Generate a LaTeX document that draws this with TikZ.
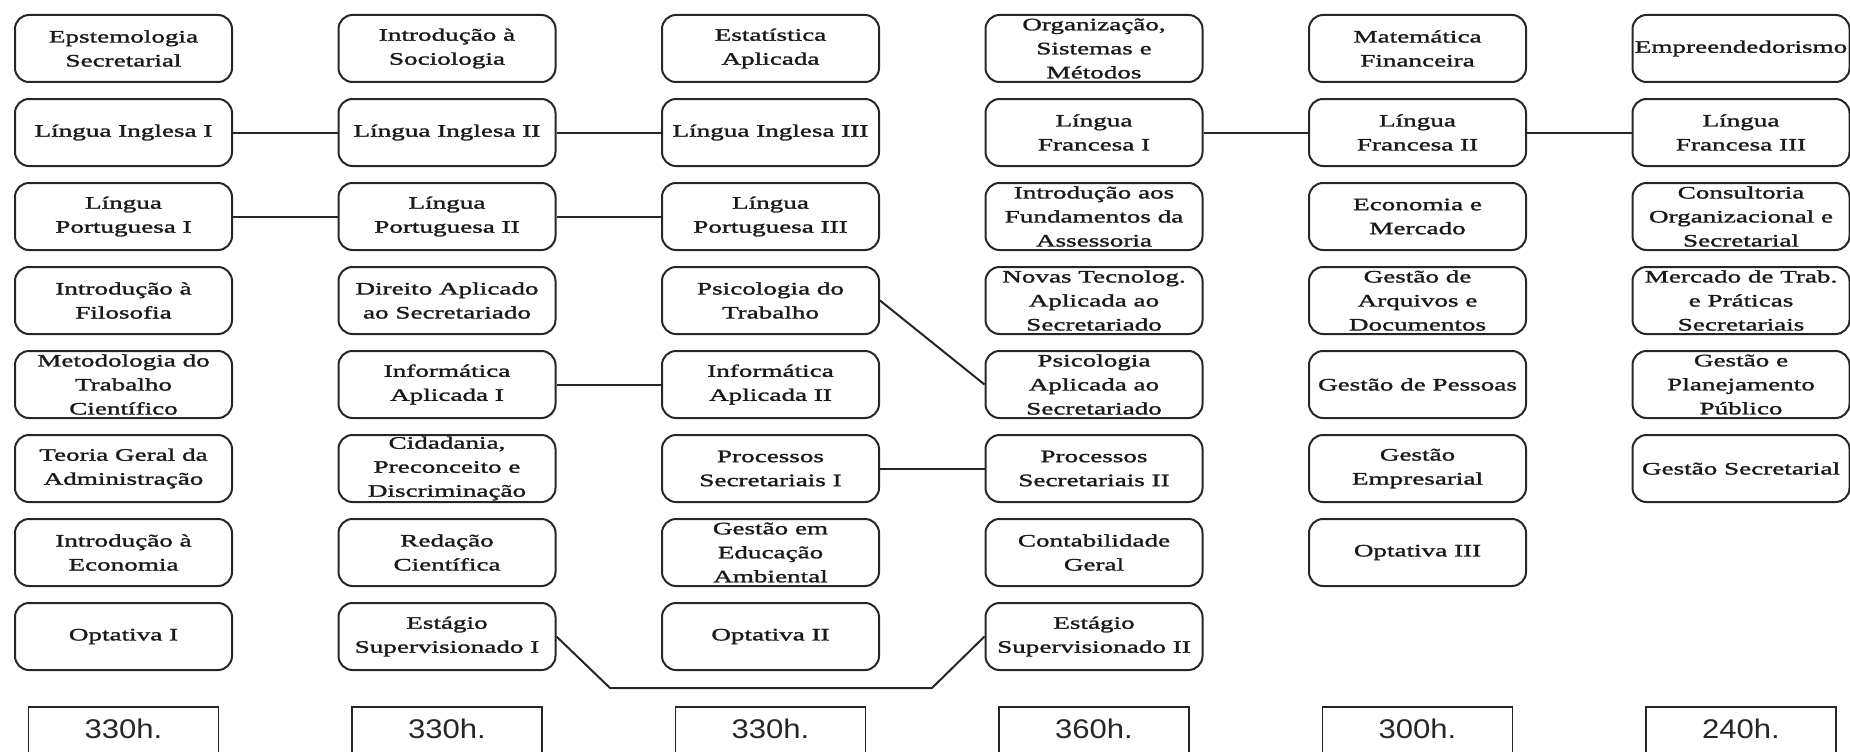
\documentclass[tikz,border=0pt]{standalone}
\usepackage{fontspec}
\newfontfamily\boxfont{Liberation Serif}[FakeStretch=1.55,FakeBold=1.6]
\newfontfamily\hourfont{Liberation Sans}[FakeStretch=1.15]
\begin{document}
\begin{tikzpicture}[x=1pt,y=-1pt]
\tikzset{
  course/.style={draw=black!85, line width=2pt, rounded corners=14pt,
    minimum width=217pt, minimum height=67pt, inner sep=0pt},
  ctext/.style={font=\boxfont\fontsize{17.5}{24}\selectfont, align=center,
    text=black!90, inner sep=0pt},
  link/.style={draw=black!85, line width=2pt},
  hourbox/.style={draw=black!85, line width=1.8pt, minimum width=190pt,
    minimum height=90pt, anchor=north, inner sep=0pt},
  hourtext/.style={font=\hourfont\fontsize{27}{32}\selectfont, text=black!85}
}
\newcommand\crs[4]{\node[course,label={[ctext]center:{#4}}] (#1) at ({123.5+323.5*(#2-1)},{48.5+84*(#3-1)}) {};}
\newcommand\hrs[3]{\node[hourbox] (#1) at ({123.5+323.5*(#2-1)},706) {};
  \node[hourtext] (#1t) at ({123.5+323.5*(#2-1)},729) {#3};}
\useasboundingbox (0,0) rectangle (1850,752);
\clip (0,0) rectangle (1850,752);
% column 1
\crs{aA}{1}{1}{Epstemologia\\Secretarial}
\crs{aB}{1}{2}{Língua Inglesa I}
\crs{aC}{1}{3}{Língua\\Portuguesa I}
\crs{aD}{1}{4}{Introdução à\\Filosofia}
\crs{aE}{1}{5}{Metodologia do\\Trabalho\\Científico}
\crs{aF}{1}{6}{Teoria Geral da\\Administração}
\crs{aG}{1}{7}{Introdução à\\Economia}
\crs{aH}{1}{8}{Optativa I}
% column 2
\crs{bA}{2}{1}{Introdução à\\Sociologia}
\crs{bB}{2}{2}{Língua Inglesa II}
\crs{bC}{2}{3}{Língua\\Portuguesa II}
\crs{bD}{2}{4}{Direito Aplicado\\ao Secretariado}
\crs{bE}{2}{5}{Informática\\Aplicada I}
\crs{bF}{2}{6}{Cidadania,\\Preconceito e\\Discriminação}
\crs{bG}{2}{7}{Redação\\Científica}
\crs{bH}{2}{8}{Estágio\\Supervisionado I}
% column 3
\crs{cA}{3}{1}{Estatística\\Aplicada}
\crs{cB}{3}{2}{Língua Inglesa III}
\crs{cC}{3}{3}{Língua\\Portuguesa III}
\crs{cD}{3}{4}{Psicologia do\\Trabalho}
\crs{cE}{3}{5}{Informática\\Aplicada II}
\crs{cF}{3}{6}{Processos\\Secretariais I}
\crs{cG}{3}{7}{Gestão em\\Educação\\Ambiental}
\crs{cH}{3}{8}{Optativa II}
% column 4
\crs{dA}{4}{1}{Organização,\\Sistemas e\\Métodos}
\crs{dB}{4}{2}{Língua\\Francesa I}
\crs{dC}{4}{3}{Introdução aos\\Fundamentos da\\Assessoria}
\crs{dD}{4}{4}{Novas Tecnolog.\\Aplicada ao\\Secretariado}
\crs{dE}{4}{5}{Psicologia\\Aplicada ao\\Secretariado}
\crs{dF}{4}{6}{Processos\\Secretariais II}
\crs{dG}{4}{7}{Contabilidade\\Geral}
\crs{dH}{4}{8}{Estágio\\Supervisionado II}
% column 5
\crs{eA}{5}{1}{Matemática\\Financeira}
\crs{eB}{5}{2}{Língua\\Francesa II}
\crs{eC}{5}{3}{Economia e\\Mercado}
\crs{eD}{5}{4}{Gestão de\\Arquivos e\\Documentos}
\crs{eE}{5}{5}{Gestão de Pessoas}
\crs{eF}{5}{6}{Gestão\\Empresarial}
\crs{eG}{5}{7}{Optativa III}
% column 6
\crs{fA}{6}{1}{Empreendedorismo}
\crs{fB}{6}{2}{Língua\\Francesa III}
\crs{fC}{6}{3}{Consultoria\\Organizacional e\\Secretarial}
\crs{fD}{6}{4}{Mercado de Trab.\\e Práticas\\Secretariais}
\crs{fE}{6}{5}{Gestão e\\Planejamento\\Público}
\crs{fF}{6}{6}{Gestão Secretarial}
% hours
\hrs{h1}{1}{330h.}
\hrs{h2}{2}{330h.}
\hrs{h3}{3}{330h.}
\hrs{h4}{4}{360h.}
\hrs{h5}{5}{300h.}
\hrs{h6}{6}{240h.}
% connectors
\draw[link] (aB) -- (bB) -- (cB);
\draw[link] (aC) -- (bC) -- (cC);
\draw[link] (dB) -- (eB) -- (fB);
\draw[link] (bE) -- (cE);
\draw[link] (cF) -- (dF);
\draw[link] (cD.east) -- (dE.west);
\coordinate (k1) at (610,688);
\coordinate (k2) at (932,688);
\draw[link] (bH.east) -- (k1) -- (k2) -- (dH.west);
\end{tikzpicture}
\end{document}
